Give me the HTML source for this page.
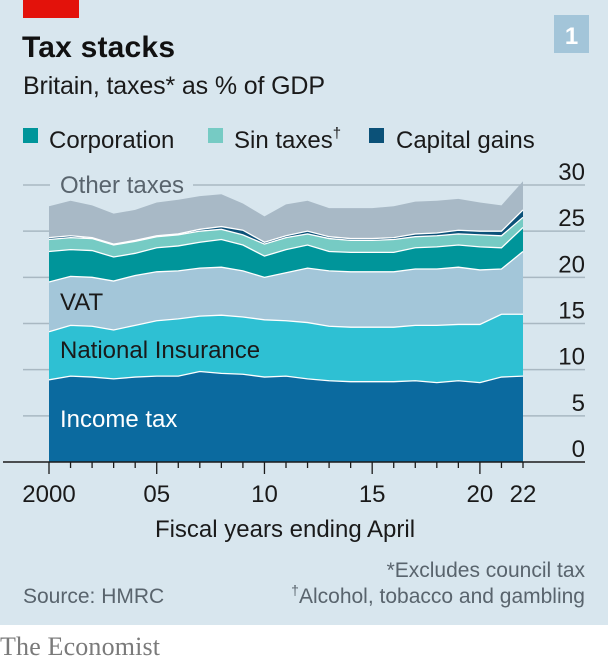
<!DOCTYPE html>
<html><head><meta charset="utf-8"><style>
html,body{margin:0;padding:0;background:#fff;}
body{width:608px;height:662px;position:relative;overflow:hidden;font-family:"Liberation Sans Narrow","Liberation Sans",sans-serif;}
#panel{position:absolute;left:0;top:0;width:608px;height:625px;background:#d8e6ee;}
svg{position:absolute;left:0;top:0;}
</style></head><body>
<div id="panel"></div>
<svg id="chart" width="608" height="662">
<rect x="23" y="0" width="56" height="18" fill="#e3120b"/>
<rect x="554" y="15" width="35" height="38" fill="#a3c5d9"/>
<text x="571.5" y="44" text-anchor="middle" font-size="24" font-weight="bold" fill="#fff" font-family="Liberation Sans, sans-serif">1</text>
<text x="22" y="57" font-size="30" font-weight="bold" fill="#111" font-family="Liberation Sans, sans-serif" textLength="153">Tax stacks</text>
<text x="23" y="94" font-size="25" fill="#1a1a1a" textLength="302">Britain, taxes* as % of GDP</text>
<g>
<rect x="23" y="128" width="15" height="15" fill="#00959a"/>
<text x="49" y="148" font-size="24" fill="#1a1a1a">Corporation</text>
<rect x="208" y="128" width="15" height="15" fill="#76cbc4"/>
<text x="234" y="148" font-size="24" fill="#1a1a1a">Sin taxes<tspan font-size="15" dy="-10">†</tspan></text>
<rect x="369" y="128" width="15" height="15" fill="#0b5178"/>
<text x="396" y="148" font-size="24" fill="#1a1a1a">Capital gains</text>
</g>
<g id="grid"></g>
<g id="areas"></g>
<g id="axes"></g>
<text x="60" y="193" font-size="24" fill="#59646d">Other taxes</text>
<text x="60" y="310" font-size="24" fill="#1a1a1a">VAT</text>
<text x="60" y="358" font-size="24" fill="#1a1a1a">National Insurance</text>
<text x="60" y="427" font-size="24" fill="#fff">Income tax</text>
<text x="285" y="537" text-anchor="middle" font-size="24" fill="#1a1a1a">Fiscal years ending April</text>
<text x="585" y="577" text-anchor="end" font-size="21" fill="#59646d">*Excludes council tax</text>
<text x="585" y="603" text-anchor="end" font-size="21" fill="#59646d"><tspan font-size="14" dy="-8">†</tspan><tspan dy="8">Alcohol, tobacco and gambling</tspan></text>
<text x="23" y="603" font-size="21" fill="#59646d">Source: HMRC</text>
<text x="0" y="655" font-size="26" fill="#7a7a7a" font-family="Liberation Serif, serif" textLength="160">The Economist</text>
</svg>
<script>
const years=[2000,2001,2002,2003,2004,2005,2006,2007,2008,2009,2010,2011,2012,2013,2014,2015,2016,2017,2018,2019,2020,2021,2022];
const incomeTax=[8.9,9.3,9.2,9.0,9.2,9.3,9.3,9.8,9.6,9.5,9.2,9.3,9.0,8.8,8.7,8.7,8.7,8.8,8.6,8.8,8.6,9.2,9.3];
const nationalInsurance=[5.2,5.5,5.5,5.3,5.6,6.0,6.2,6.0,6.3,6.2,6.2,6.0,6.1,5.9,5.9,5.9,5.9,6.0,6.2,6.1,6.3,6.8,6.7];
const vat=[5.4,5.3,5.3,5.3,5.4,5.3,5.2,5.2,5.2,5.0,4.6,5.2,5.9,6.0,6.0,6.0,6.0,6.1,6.1,6.2,5.9,4.9,6.8];
const corporation=[3.3,2.9,2.9,2.6,2.4,2.6,2.7,2.8,3.0,2.8,2.3,2.5,2.5,2.1,2.1,2.1,2.1,2.3,2.4,2.4,2.5,2.3,2.6];
const sinTaxes=[1.3,1.3,1.3,1.3,1.3,1.2,1.2,1.2,1.1,1.1,1.3,1.3,1.2,1.4,1.3,1.3,1.4,1.2,1.2,1.2,1.3,1.3,1.1];
const capitalGains=[0.2,0.2,0.1,0.1,0.1,0.1,0.1,0.2,0.3,0.5,0.2,0.2,0.3,0.2,0.2,0.2,0.2,0.3,0.3,0.4,0.4,0.5,0.8];
const otherTaxes=[3.4,3.8,3.5,3.3,3.3,3.6,3.7,3.6,3.5,2.9,2.8,3.4,3.3,3.1,3.3,3.3,3.4,3.5,3.5,3.4,3.1,2.8,3.1];
const yTicks=[0,5,10,15,20,25,30];
const xTickLabels=["2000","05","10","15","20","22"];
const xTickYears=[2000,2005,2010,2015,2020,2022];

const NS="http://www.w3.org/2000/svg";
const x=y=>49+(y-2000)*(523-49)/22;
const yS=v=>462-v*(277/30);
function mk(tag,attrs,parent){const e=document.createElementNS(NS,tag);for(const k in attrs)e.setAttribute(k,attrs[k]);parent.appendChild(e);return e;}
const grid=document.getElementById('grid'),areas=document.getElementById('areas'),axes=document.getElementById('axes');
yTicks.forEach(t=>{
  if(t>0){
    if(t===30){
      const l1=mk('line',{x1:23,x2:50,y1:yS(t),y2:yS(t),stroke:'#a9b8c2','stroke-width':1.5},grid);
      
      
      const l2=mk('line',{x1:193,x2:585,y1:yS(t),y2:yS(t),stroke:'#a9b8c2','stroke-width':1.5},grid);
      
      
    } else {
      const l=mk('line',{x1:23,x2:585,y1:yS(t),y2:yS(t),stroke:'#a9b8c2','stroke-width':1.5},grid);
      
      
    }
  }
  const tx=mk('text',{x:585,y:yS(t)-5,'text-anchor':'end','font-size':24,fill:'#1a1a1a'},axes);
  tx.textContent=t;
  
  
});
const series=[[incomeTax,'#0b6a9f','income-tax'],[nationalInsurance,'#2ec0d3','national-insurance'],[vat,'#a3c6d9','vat'],[corporation,'#00959a','corporation'],[sinTaxes,'#76cbc4','sin-taxes'],[capitalGains,'#0b5178','capital-gains'],[otherTaxes,'#a8b9c6','other-taxes']];
let base=years.map(()=>0);
const tops=[];
series.forEach(([vals,col,name])=>{
  const top=base.map((b,i)=>b+vals[i]);
  let d='M'+years.map((yr,i)=>x(yr)+','+yS(top[i])).join('L');
  for(let i=years.length-1;i>=0;i--)d+='L'+x(years[i])+','+yS(base[i]);
  d+='Z';
  const p=mk('path',{d:d,fill:col},areas);
  
  
  tops.push([top,name]);
  base=top;
});
tops.slice(0,6).forEach(([top,name])=>{
  const l=mk('polyline',{points:years.map((yr,i)=>x(yr)+','+yS(top[i])).join(' '),fill:'none',stroke:'#fff','stroke-width':1.3},areas);
  
  
});
const ax=mk('line',{x1:3,x2:585,y1:462,y2:462,stroke:'#1a1a1a','stroke-width':1.5},axes);


years.forEach(yr=>{
  const major=xTickYears.includes(yr)&&yr!==2022;
  const t=mk('line',{x1:x(yr),x2:x(yr),y1:462,y2:major?474:468,stroke:'#1a1a1a','stroke-width':1.3},axes);
  
  
});
xTickYears.forEach((yr,i)=>{
  const t=mk('text',{x:x(yr),y:502,'text-anchor':'middle','font-size':24,fill:'#1a1a1a'},axes);
  t.textContent=xTickLabels[i];
  
  
});
</script>
</body></html>
